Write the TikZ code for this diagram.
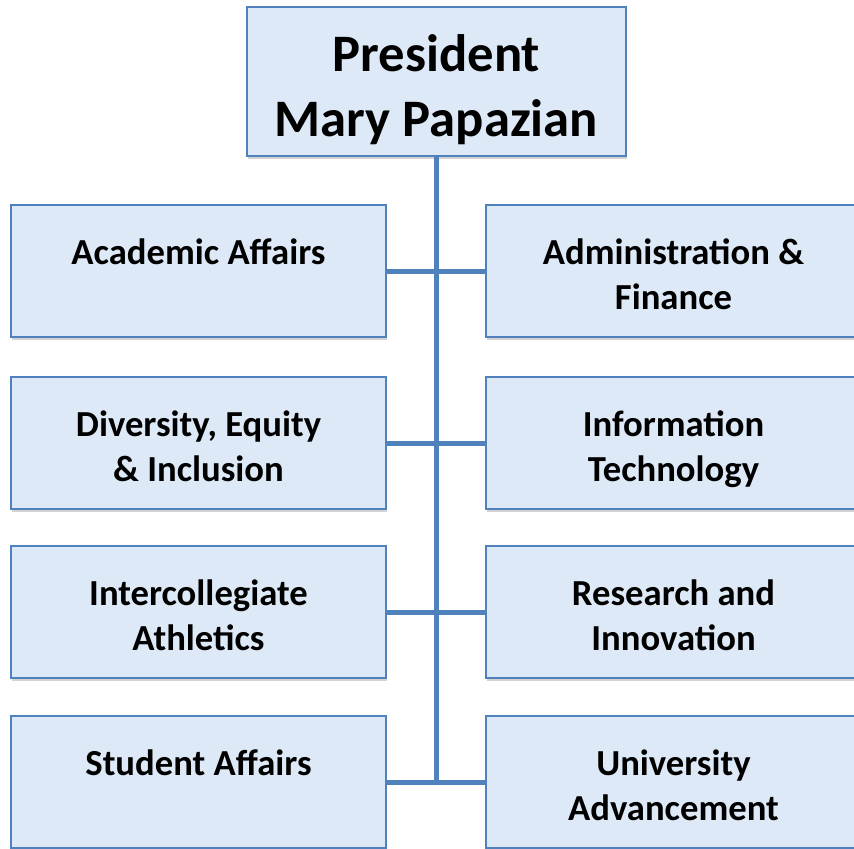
\documentclass[tikz,border=0pt]{standalone}
\usepackage{fontspec}
\setmainfont{Carlito}
\usetikzlibrary{shadows}

\definecolor{boxfill}{RGB}{221,233,247}
\definecolor{boxline}{RGB}{79,129,189}

\tikzset{
  unit/.style={draw=boxline, line width=1.5pt, fill=boxfill, align=center,
    minimum width=375*0.75pt, minimum height=132*0.75pt, inner sep=0pt,
    text height=57pt, text depth=0pt,
    font=\bfseries\fontsize{27.5}{33.75}\selectfont,
    drop shadow={shadow xshift=0.8pt, shadow yshift=-2pt, opacity=0.35}},
  oneline/.style={text height=20pt, text depth=30.5pt},
  link/.style={draw=boxline, line width=3.75pt}
}

\begin{document}
\begin{tikzpicture}[x=0.75pt,y=0.75pt,yscale=-1,xscale=1]
\useasboundingbox (0,0) rectangle (854,849);
\clip (0,0) rectangle (854,849);

% President
\node [unit, minimum width=379*0.75pt, minimum height=149*0.75pt,
  text height=83.25pt, text depth=0pt,
  font=\bfseries\fontsize{39.5}{48.75}\selectfont] (pres) at (436.5,81.5) {President\\Mary Papazian};

% Left column
\node [unit, oneline] (acad) at (198.5,271) {Academic Affairs};
\node [unit] (dei) at (198.5,443) {Diversity, Equity\\\& Inclusion};
\node [unit] (ath) at (198.5,612) {Intercollegiate\\Athletics};
\node [unit, oneline] (stud) at (198.5,782) {Student Affairs};

% Right column
\node [unit] (admin) at (673.5,271) {Administration \&\\Finance};
\node [unit] (it) at (673.5,443) {Information\\Technology};
\node [unit] (res) at (673.5,612) {Research and\\Innovation};
\node [unit] (adv) at (673.5,782) {University\\Advancement};

% Connectors
\draw [link] (pres.south) -- (pres.south |- stud.east);
\draw [link] (acad.east) -- (admin.west);
\draw [link] (dei.east) -- (it.west);
\draw [link] (ath.east) -- (res.west);
\draw [link] (stud.east) -- (adv.west);

\end{tikzpicture}
\end{document}
